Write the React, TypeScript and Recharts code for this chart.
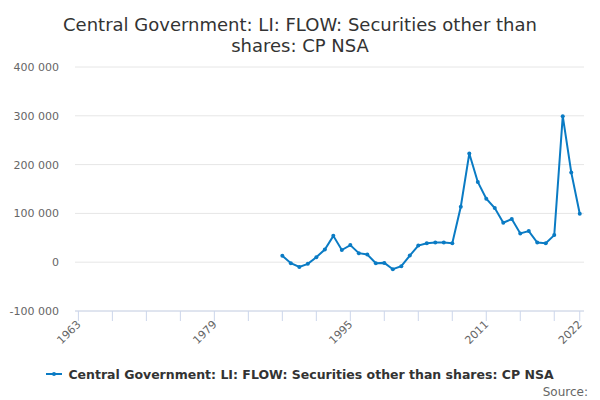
import React from 'react';
import { LineChart, Line, XAxis, YAxis, CartesianGrid, Legend } from 'recharts';

const years = [1987, 1988, 1989, 1990, 1991, 1992, 1993, 1994, 1995, 1996, 1997, 1998, 1999, 2000, 2001, 2002, 2003, 2004, 2005, 2006, 2007, 2008, 2009, 2010, 2011, 2012, 2013, 2014, 2015, 2016, 2017, 2018, 2019, 2020, 2021, 2022];
const values = [13000, -2000, -9600, -3400, 10300, 26000, 54000, 25000, 35000, 18500, 15800, -2000, -1400, -14400, -8200, 13700, 34000, 39000, 40400, 40400, 39000, 113700, 222600, 164400, 130000, 111000, 80800, 88400, 59000, 63700, 40400, 39000, 55500, 299300, 184000, 99300];
const xTicks = [1963, 1967, 1971, 1975, 1979, 1983, 1987, 1991, 1995, 1999, 2003, 2007, 2011, 2015, 2019, 2022];
const xLabels = [1963, 1979, 1995, 2011, 2022];
const yTicks = [-100000, 0, 100000, 200000, 300000, 400000];

const seriesName = 'Central Government: LI: FLOW: Securities other than shares: CP NSA';
const titleLines = ['Central Government: LI: FLOW: Securities other than', 'shares: CP NSA'];
const color = '#0a7bc4';
const font = '"DejaVu Sans", "Lucida Grande", sans-serif';

const data = years.map((y, i) => ({ year: y, value: values[i] }));

const fmtY = (v: number) => {
  const s = Math.abs(v).toString().replace(/\B(?=(\d{3})+(?!\d))/g, ' ');
  return (v < 0 ? '-' : '') + s;
};

const XTick = (props: any) => {
  const { x, y, payload } = props;
  if (!xLabels.includes(payload.value)) return null;
  return (
    <text
      x={x + 3}
      y={y + 2}
      textAnchor="end"
      fill="#666"
      fontSize={11}
      fontFamily={font}
      transform={`rotate(-45 ${x + 3} ${y + 2})`}
    >
      {payload.value}
    </text>
  );
};

const LegendContent = () => (
  <div style={{ width: 600, height: 24, display: 'flex', alignItems: 'center', justifyContent: 'center', fontFamily: font }}>
    <svg width={16} height={10} style={{ marginRight: 6 }}>
      <line x1={0} y1={5} x2={16} y2={5} stroke={color} strokeWidth={2} />
      <circle cx={8} cy={5} r={2} fill={color} />
    </svg>
    <span style={{ fontSize: 12.5, fontWeight: 'bold', color: '#333', whiteSpace: 'nowrap' }}>{seriesName}</span>
  </div>
);

export default function App() {
  return (
    <div style={{ position: 'absolute', left: 0, top: 0, width: 600, height: 400, background: '#fff', fontFamily: font }}>
      <div style={{ position: 'absolute', left: 0, top: 14, width: 600, textAlign: 'center', fontSize: 18, lineHeight: '21px', color: '#333' }}>
        {titleLines.map((l) => (
          <div key={l}>{l}</div>
        ))}
      </div>
      <LineChart width={600} height={400} data={data} margin={{ top: 67, right: 16, left: 0, bottom: 14 }}>
        <CartesianGrid horizontal vertical={false} stroke="#e6e6e6" />
        <XAxis
          dataKey="year"
          type="number"
          domain={[1962.6, 2022.5]}
          allowDataOverflow
          ticks={xTicks}
          interval={0}
          tick={<XTick />}
          tickSize={10}
          tickLine={{ stroke: '#ccd6eb' }}
          axisLine={{ stroke: '#ccd6eb' }}
          height={51}
        />
        <YAxis
          type="number"
          domain={[-100000, 400000]}
          ticks={yTicks}
          interval={0}
          width={75}
          axisLine={false}
          tickLine={false}
          tickSize={0}
          tickMargin={16}
          tickFormatter={fmtY}
          tick={{ fill: '#666', fontSize: 11, fontFamily: font }}
        />
        <Legend verticalAlign="bottom" content={<LegendContent />} wrapperStyle={{ left: 0, width: 600 }} />
        <Line
          type="linear"
          dataKey="value"
          name={seriesName}
          stroke={color}
          strokeWidth={2}
          dot={{ r: 2, fill: color, stroke: color, strokeWidth: 0 }}
          isAnimationActive={false}
        />
      </LineChart>
      <div style={{ position: 'absolute', right: 12, top: 385, fontSize: 12, color: '#666' }}>Source:</div>
    </div>
  );
}
